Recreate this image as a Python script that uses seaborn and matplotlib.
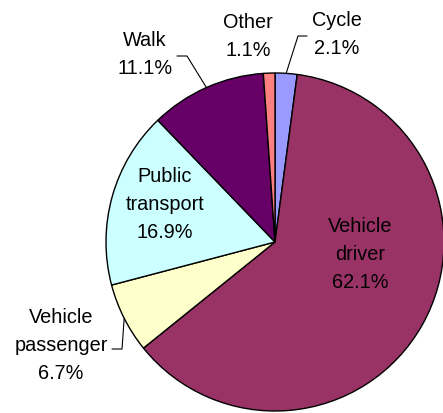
import numpy as np
import matplotlib
matplotlib.use("Agg")
import matplotlib.pyplot as plt
import seaborn as sns

# Data
categories = ["Cycle", "Vehicle driver", "Vehicle passenger", "Public transport", "Walk", "Other"]
label_text = ["Cycle", "Vehicle\ndriver", "Vehicle\npassenger", "Public\ntransport", "Walk", "Other"]
shares = [2.1, 62.1, 6.7, 16.9, 11.1, 1.1]
colors = ["#9999FF", "#993366", "#FFFFCC", "#CCFFFF", "#660066", "#FF8080"]

sns.set_style("white")
plt.rcParams['font.family'] = ['Liberation Sans', 'DejaVu Sans']

W, H = 443, 414
fig = plt.figure(figsize=(W / 100, H / 100), dpi=100)
ax = fig.add_axes([0, 0, 1, 1])
ax.set_xlim(0, W)
ax.set_ylim(0, H)
ax.set_aspect("equal")
ax.axis("off")

cx, cy_px, R = 275, 243, 169
cy = H - cy_px

wedges, _ = ax.pie(shares, colors=colors, startangle=90, counterclock=False,
                   center=(cx, cy), radius=R,
                   wedgeprops=dict(edgecolor="black", linewidth=1.0))
ax.set_xlim(0, W)
ax.set_ylim(0, H)

# label positions (pixel, y from top)
label_pos = {
    "Cycle": (337, 34),
    "Vehicle driver": (360, 255),
    "Vehicle passenger": (61, 346),
    "Public transport": (165, 205),
    "Walk": (145, 55),
    "Other": (248, 36),
}
fs = 14.3
for cat, lt, v in zip(categories, label_text, shares):
    x, y = label_pos[cat]
    ax.text(x, H - y, f"{lt}\n{v:.1f}%", ha="center", va="center",
            fontsize=fs, linespacing=1.6, color="black")

# leader lines: from wedge edge mid-angle to elbow
elbows = {
    "Cycle": [(298, 37), (307, 37)],
    "Walk": [(187, 57), (177, 57)],
    "Vehicle passenger": [(122, 350), (112, 350)],
}
for w, cat in zip(wedges, categories):
    if cat in elbows:
        ang = np.deg2rad((w.theta1 + w.theta2) / 2)
        x0 = cx + R * np.cos(ang)
        y0 = cy + R * np.sin(ang)
        pts = [(x0, y0)] + [(px, H - py) for px, py in elbows[cat]]
        xs, ys = zip(*pts)
        ax.plot(xs, ys, color="black", linewidth=0.8)

fig.savefig("out.png", dpi=100)
